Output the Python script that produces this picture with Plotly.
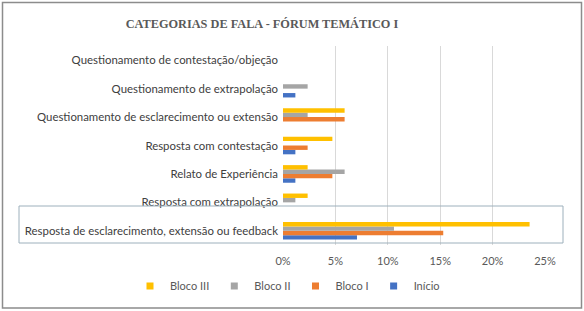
import plotly.graph_objects as go

categories = [
    "Resposta de esclarecimento, extensão ou feedback",
    "Resposta com extrapolação",
    "Relato de Experiência",
    "Resposta com contestação",
    "Questionamento de esclarecimento ou extensão",
    "Questionamento de extrapolação",
    "Questionamento de contestação/objeção",
]

inicio = [0.0706, 0.0, 0.0118, 0.0118, 0.0, 0.0118, 0.0]
bloco1 = [0.1529, 0.0, 0.0471, 0.0235, 0.0588, 0.0, 0.0]
bloco2 = [0.1059, 0.0118, 0.0588, 0.0, 0.0235, 0.0235, 0.0]
bloco3 = [0.2353, 0.0235, 0.0235, 0.0471, 0.0588, 0.0, 0.0]

series_names = ["Início", "Bloco I", "Bloco II", "Bloco III"]
series_values = [inicio, bloco1, bloco2, bloco3]
series_colors = ["#4472C4", "#ED7D31", "#A5A5A5", "#FFC000"]

x_ticks = [0, 0.05, 0.10, 0.15, 0.20, 0.25]
x_tick_labels = ["0%", "5%", "10%", "15%", "20%", "25%"]

W, H = 584, 311
ML, MR, MT, MB = 283, 39, 46, 66
pw = W - ML - MR
ph = H - MT - MB

def px2x(px):
    return (px - ML) / pw

def py2y(py):
    return (H - MB - py) / ph

fig = go.Figure()
for name, vals, col in zip(series_names, series_values, series_colors):
    fig.add_trace(go.Bar(
        y=categories, x=vals, name=name, orientation="h",
        marker=dict(color=col, line=dict(width=0)),
        showlegend=False, legendgroup=name,
    ))
# legend entries with small square swatches
for name, col in zip(series_names, series_colors):
    fig.add_trace(go.Scatter(
        x=[None], y=[None], mode="markers", name=name, legendgroup=name,
        marker=dict(symbol="square", size=7, color=col),
        showlegend=True, hoverinfo="skip",
    ))

fig.update_layout(
    width=W, height=H,
    margin=dict(l=ML, r=MR, t=MT, b=MB, autoexpand=False),
    paper_bgcolor="white", plot_bgcolor="white",
    barmode="group", bargap=0.38, bargroupgap=0,
    font=dict(family="Lato, Carlito, sans-serif", size=11, color="#595959"),
    title=dict(
        text="<b>CATEGORIAS DE FALA - FÓRUM TEMÁTICO I</b>",
        x=262 / W, xref="container", xanchor="center",
        y=1 - 24 / H, yref="container", yanchor="middle",
        font=dict(family="Liberation Serif, Times New Roman, serif", size=12.3, color="#595959"),
    ),
    xaxis=dict(
        range=[0, 0.25], tickvals=x_ticks, ticktext=x_tick_labels,
        showgrid=True, gridcolor="#D9D9D9", gridwidth=1,
        zeroline=False, showline=False, ticks="",
        ticklabelstandoff=8, automargin=False,
        tickfont=dict(size=11, color="#595959"),
        fixedrange=True,
    ),
    yaxis=dict(
        categoryorder="array", categoryarray=categories,
        showgrid=False, zeroline=False, showline=False, ticks="",
        ticklabelstandoff=4, automargin=False,
        tickfont=dict(size=11.4, color="#404040"),
        fixedrange=True,
    ),
    legend=dict(
        orientation="h", traceorder="reversed",
        x=px2x(130), xref="paper", xanchor="left",
        y=py2y(286), yref="paper", yanchor="middle",
        font=dict(size=11, color="#595959"),
        itemwidth=30,
    ),
    showlegend=True,
    shapes=[
        dict(type="rect", xref="paper", yref="paper",
             x0=px2x(19), x1=px2x(563), y0=py2y(243), y1=py2y(206),
             line=dict(color="#9DB0BC", width=1), fillcolor="rgba(0,0,0,0)"),
        dict(type="rect", xref="paper", yref="paper",
             x0=px2x(2.5), x1=px2x(581.5), y0=py2y(308), y1=py2y(2.5),
             line=dict(color="#8C8C8C", width=1.5), fillcolor="rgba(0,0,0,0)"),
    ],
)

fig.write_html(
    "out.html",
    config={"displayModeBar": False},
    post_script="document.body.style.margin='0';document.body.style.padding='0';",
)
